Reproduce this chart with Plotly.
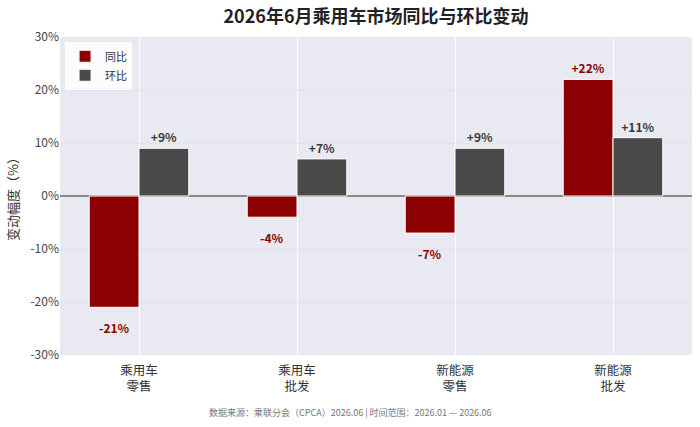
import plotly.graph_objects as go

categories = ["乘用车<br>零售", "乘用车<br>批发", "新能源<br>零售", "新能源<br>批发"]
yoy = [-21, -4, -7, 22]
mom = [9, 7, 9, 11]
y_ticks = [-30, -20, -10, 0, 10, 20, 30]

FONT = "Noto Sans CJK SC"
RED = "#8b0000"


def fmt(v):
    return f"+{v}%" if v > 0 else f"{v}%"


fig = go.Figure()
fig.add_trace(go.Bar(
    name="同比", x=categories, y=yoy,
    marker=dict(color=RED, line=dict(color="white", width=1)),
    # negatives are labelled with annotations below (more gap, like the original)
    text=[fmt(v) if v > 0 else "" for v in yoy], textposition="outside",
    textfont=dict(color=RED, size=12, family=FONT, weight="bold"),
    cliponaxis=False,
))
fig.add_trace(go.Bar(
    name="环比", x=categories, y=mom,
    marker=dict(color="#4a4a4a", line=dict(color="white", width=1)),
    text=[fmt(v) for v in mom], textposition="outside",
    textfont=dict(color="#3a3a3a", size=12, family=FONT, weight="bold"),
    cliponaxis=False,
))

for cat, v in zip(categories, yoy):
    if v < 0:
        fig.add_annotation(x=cat, y=v, xref="x", yref="y", xshift=-25, yshift=-10,
                           yanchor="top", showarrow=False, text=f"<b>{fmt(v)}</b>",
                           font=dict(color=RED, size=12, family=FONT))

fig.update_layout(
    width=700, height=427,
    autosize=False,
    margin=dict(l=60, r=8, t=37, b=72, autoexpand=False),
    paper_bgcolor="white",
    plot_bgcolor="#e9e9f1",
    font=dict(family=FONT, size=12, color="#444"),
    title=dict(text="<b>2026年6月乘用车市场同比与环比变动</b>", x=0.5, xref="paper",
               xanchor="center", y=0.962, yanchor="middle",
               font=dict(size=18, color="#222")),
    barmode="group",
    bargap=0.37,
    bargroupgap=0,
    legend=dict(x=0.008, y=0.985, xanchor="left", yanchor="top", itemwidth=30,
                bgcolor="rgba(255,255,255,0.85)", font=dict(size=11, color="#333")),
    xaxis=dict(showgrid=True, gridcolor="white", gridwidth=1, automargin=False,
               tickfont=dict(size=12.5, color="#333"), ticks="", ticklabelstandoff=6),
    yaxis=dict(range=[-30, 30], tickvals=y_ticks,
               ticktext=[f"{v}%" for v in y_ticks], automargin=False,
               showgrid=True, gridcolor="#e2e2e9", gridwidth=1,
               zeroline=True, zerolinecolor="#888", zerolinewidth=2,
               title=dict(text="变动幅度（%）", font=dict(size=13, color="#333"), standoff=8),
               tickfont=dict(size=12, color="#444")),
)

fig.add_annotation(
    text="数据来源：乘联分会（CPCA）2026.06 | 时间范围：2026.01 — 2026.06",
    xref="paper", yref="paper", x=0.459, y=-0.18, xanchor="center", yanchor="middle",
    showarrow=False, font=dict(size=9, color="#777"),
)

# page body has a default 8px margin, drop it so the figure sits at 0,0
fig.write_html("out.html", config={"displayModeBar": False},
               post_script="document.body.style.margin='0';")
